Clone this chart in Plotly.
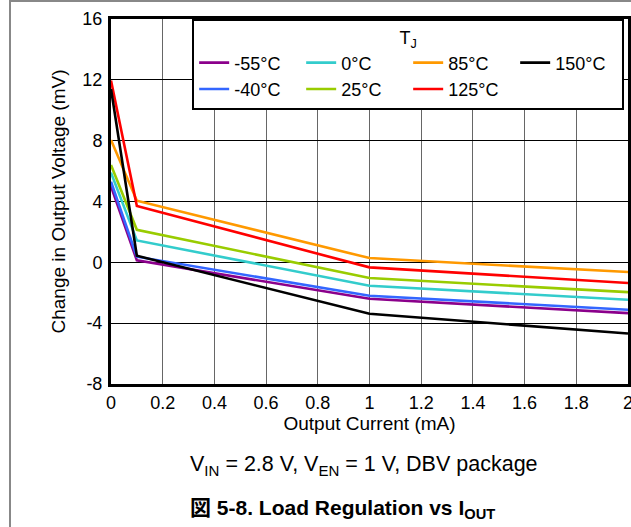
import plotly.graph_objects as go

# ---- data ----
current_ma = [0, 0.1, 1, 2]
temps = ["-55°C", "-40°C", "0°C", "25°C", "85°C", "125°C", "150°C"]
colors = ["#8B008B", "#3366FF", "#33CCCC", "#99CC00", "#FF9900", "#FF0000", "#000000"]
dv_m55 = [5.0, 0.13, -2.4, -3.34]
dv_m40 = [5.3, 0.37, -2.2, -3.12]
dv_0 = [5.9, 1.44, -1.54, -2.46]
dv_25 = [6.4, 2.14, -1.03, -1.96]
dv_85 = [8.05, 4.05, 0.28, -0.64]
dv_125 = [11.95, 3.7, -0.33, -1.36]
dv_150 = [11.4, 0.43, -3.38, -4.68]
series = [dv_m55, dv_m40, dv_0, dv_25, dv_85, dv_125, dv_150]
legend_rank = [1, 5, 2, 6, 3, 7, 4]

x_ticks = [0, 0.2, 0.4, 0.6, 0.8, 1, 1.2, 1.4, 1.6, 1.8, 2]
x_ticklabels = ["0", "0.2", "0.4", "0.6", "0.8", "1", "1.2", "1.4", "1.6", "1.8", "2"]
y_ticks = [-8, -4, 0, 4, 8, 12, 16]
y_ticklabels = ["-8", "-4", "0", "4", "8", "12", "16"]

FONT = "Liberation Sans, Arial, Noto Sans CJK JP, sans-serif"

fig = go.Figure()
for name, col, vals, rk in zip(temps, colors, series, legend_rank):
    fig.add_trace(go.Scatter(
        x=current_ma, y=vals, mode="lines", name=name,
        line=dict(color=col, width=2.6), legendrank=rk,
    ))

fig.update_layout(
    width=631, height=527,
    margin=dict(l=111, r=3, t=19, b=143),
    paper_bgcolor="white", plot_bgcolor="white",
    font=dict(family=FONT, size=16, color="black"),
    showlegend=True,
    legend=dict(
        orientation="h", x=0.157, y=1.0, xanchor="left", yanchor="top",
        bgcolor="white", bordercolor="black", borderwidth=2,
        font=dict(size=18), entrywidth=62, tracegroupgap=0,
        title=dict(text="T<sub>J</sub>", side="top center", font=dict(size=18)),
    ),
    xaxis=dict(
        range=[0, 2], tickvals=x_ticks, ticktext=x_ticklabels,
        showgrid=True, gridcolor="#666666", gridwidth=1,
        showline=True, linecolor="black", linewidth=3, mirror=True,
        ticks="", zeroline=False, automargin=False, ticklabeloverflow="allow",
        tickfont=dict(size=18),
        title=dict(text="Output Current (mA)", font=dict(size=19), standoff=2),
    ),
    yaxis=dict(
        range=[-8, 16], tickvals=y_ticks, ticktext=y_ticklabels,
        showgrid=True, gridcolor="black", gridwidth=1,
        showline=True, linecolor="black", linewidth=3, mirror=True,
        ticks="", zeroline=False, automargin=False,
        tickfont=dict(size=18), ticklabelstandoff=2,
        title=dict(text="Change in Output Voltage (mV)", font=dict(size=19), standoff=12),
    ),
)

fig.add_annotation(
    text="V<sub>IN</sub> = 2.8 V, V<sub>EN</sub> = 1 V, DBV package",
    xref="paper", yref="paper", x=0.49, y=-0.266, showarrow=False,
    font=dict(size=21.5, family=FONT),
)
fig.add_annotation(
    text="<b>図 5-8. Load Regulation vs I<sub>OUT</sub></b>",
    xref="paper", yref="paper", x=0.447, y=-0.384, showarrow=False,
    font=dict(size=21, family=FONT),
)

# page borders (gray)
fig.add_shape(type="line", xref="paper", yref="paper",
              x0=(10 - 111) / 517, x1=(10 - 111) / 517, y0=-0.5, y1=1.1,
              line=dict(color="#888888", width=2))
fig.add_shape(type="line", xref="paper", yref="paper",
              x0=(10 - 111) / 517, x1=1.1, y0=(384 - 1) / 365, y1=(384 - 1) / 365,
              line=dict(color="#888888", width=2))

fig.write_html("out.html", config={"displayModeBar": False},
               post_script="document.body.style.margin='0';")
